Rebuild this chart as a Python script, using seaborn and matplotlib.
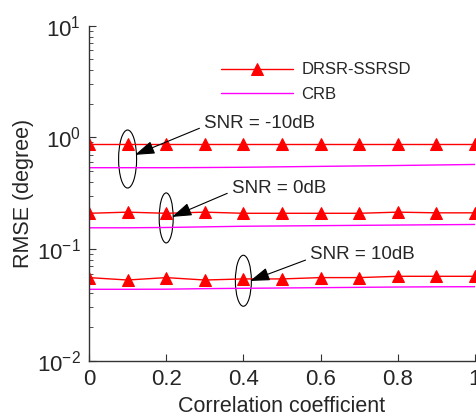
import numpy as np
import pandas as pd
import matplotlib
matplotlib.use("Agg")
import matplotlib.pyplot as plt
from matplotlib.patches import Ellipse
from matplotlib.ticker import LogLocator, NullFormatter
import seaborn as sns

rho = [0.0, 0.1, 0.2, 0.3, 0.4, 0.5, 0.6, 0.7, 0.8, 0.9, 1.0]
drsr_m10 = [0.873, 0.873, 0.873, 0.873, 0.873, 0.873, 0.873, 0.873, 0.873, 0.873, 0.873]
crb_m10 = [0.535, 0.535, 0.535, 0.537, 0.540, 0.545, 0.550, 0.555, 0.560, 0.566, 0.572]
drsr_0 = [0.209, 0.214, 0.209, 0.214, 0.209, 0.209, 0.209, 0.209, 0.214, 0.211, 0.211]
crb_0 = [0.155, 0.155, 0.156, 0.158, 0.160, 0.161, 0.162, 0.163, 0.164, 0.165, 0.166]
drsr_10 = [0.0555, 0.0528, 0.0555, 0.0528, 0.054, 0.054, 0.0555, 0.0555, 0.057, 0.057, 0.057]
crb_10 = [0.0436, 0.0436, 0.0437, 0.0442, 0.0445, 0.0448, 0.0451, 0.0454, 0.0457, 0.0459, 0.046]

sns.set_style("white")
plt.rcParams['font.family'] = ['Liberation Sans', 'DejaVu Sans']
plt.rcParams['mathtext.fontset'] = 'custom'
plt.rcParams['mathtext.rm'] = 'Liberation Sans'
plt.rcParams['mathtext.it'] = 'Liberation Sans'

fig = plt.figure(figsize=(4.77, 4.16), dpi=100)
ax = fig.add_axes([0.1866, 0.1329, 0.809, 0.8053])

red = '#ff0000'
mag = '#ff00ff'
for i, (d, c) in enumerate([(drsr_m10, crb_m10), (drsr_0, crb_0), (drsr_10, crb_10)]):
    df = pd.DataFrame({'rho': rho, 'd': d, 'c': c})
    sns.lineplot(data=df, x='rho', y='d', ax=ax, color=red, lw=1.0, marker='^',
                 markersize=9, markeredgecolor=red, label='DRSR-SSRSD' if i == 0 else None)
    sns.lineplot(data=df, x='rho', y='c', ax=ax, color=mag, lw=1.0,
                 label='CRB' if i == 0 else None)

ax.set_yscale('log')
ax.set_xlim(0, 1)
ax.set_ylim(1e-2, 1e1)
ax.yaxis.set_minor_locator(LogLocator(base=10, subs=np.arange(2, 10)))
ax.yaxis.set_minor_formatter(NullFormatter())
ax.set_xticks([0, 0.2, 0.4, 0.6, 0.8, 1.0])
ax.set_xticklabels(['0', '0.2', '0.4', '0.6', '0.8', '1'])
ax.set_xlabel('Correlation coefficient', fontsize=15.5, labelpad=4)
ax.set_ylabel('RMSE (degree)', fontsize=15.5, labelpad=2)
ax.tick_params(axis='both', which='major', direction='in', length=5, labelsize=16,
               color='#333333', pad=6, left=True, bottom=True)
ax.tick_params(axis='y', which='minor', direction='in', length=3, color='#333333', left=True)
ax.tick_params(axis='x', which='minor', bottom=False)
for s in ['top', 'right']:
    ax.spines[s].set_visible(False)
for s in ['left', 'bottom']:
    ax.spines[s].set_color('#333333')
    ax.spines[s].set_linewidth(1.0)

leg = ax.legend(loc='upper left', bbox_to_anchor=(0.304, 0.935), frameon=False,
                fontsize=12, handlelength=4.3, handletextpad=0.5, labelspacing=0.55)

def axy(v):
    return (np.log10(v) + 2) / 3

# ellipses (axes fraction coordinates)
ells = [(0.1, 0.64, 18, 58), (0.2, 0.19, 14, 50), (0.4, 0.052, 16, 51)]
for x, v, wpx, hpx in ells:
    e = Ellipse((x, axy(v)), wpx / 386, hpx / 335, transform=ax.transAxes,
                fill=False, edgecolor='black', lw=0.8)
    ax.add_patch(e)

notes = [('SNR = -10dB', (0.119, 0.697), (0.298, 1.345)),
         ('SNR = 0dB', (0.215, 0.194), (0.370, 0.352)),
         ('SNR = 10dB', (0.417, 0.0518), (0.573, 0.0885))]
for txt, xy, xyt in notes:
    ax.annotate(txt, xy=xy, xytext=xyt, fontsize=13.5, ha='left', va='center',
                arrowprops=dict(arrowstyle='-|>,head_length=0.9,head_width=0.3',
                                color='black', lw=0.8, shrinkA=1, shrinkB=0,
                                relpos=(0, 0.3)))

fig.savefig('out.png', dpi=100)
